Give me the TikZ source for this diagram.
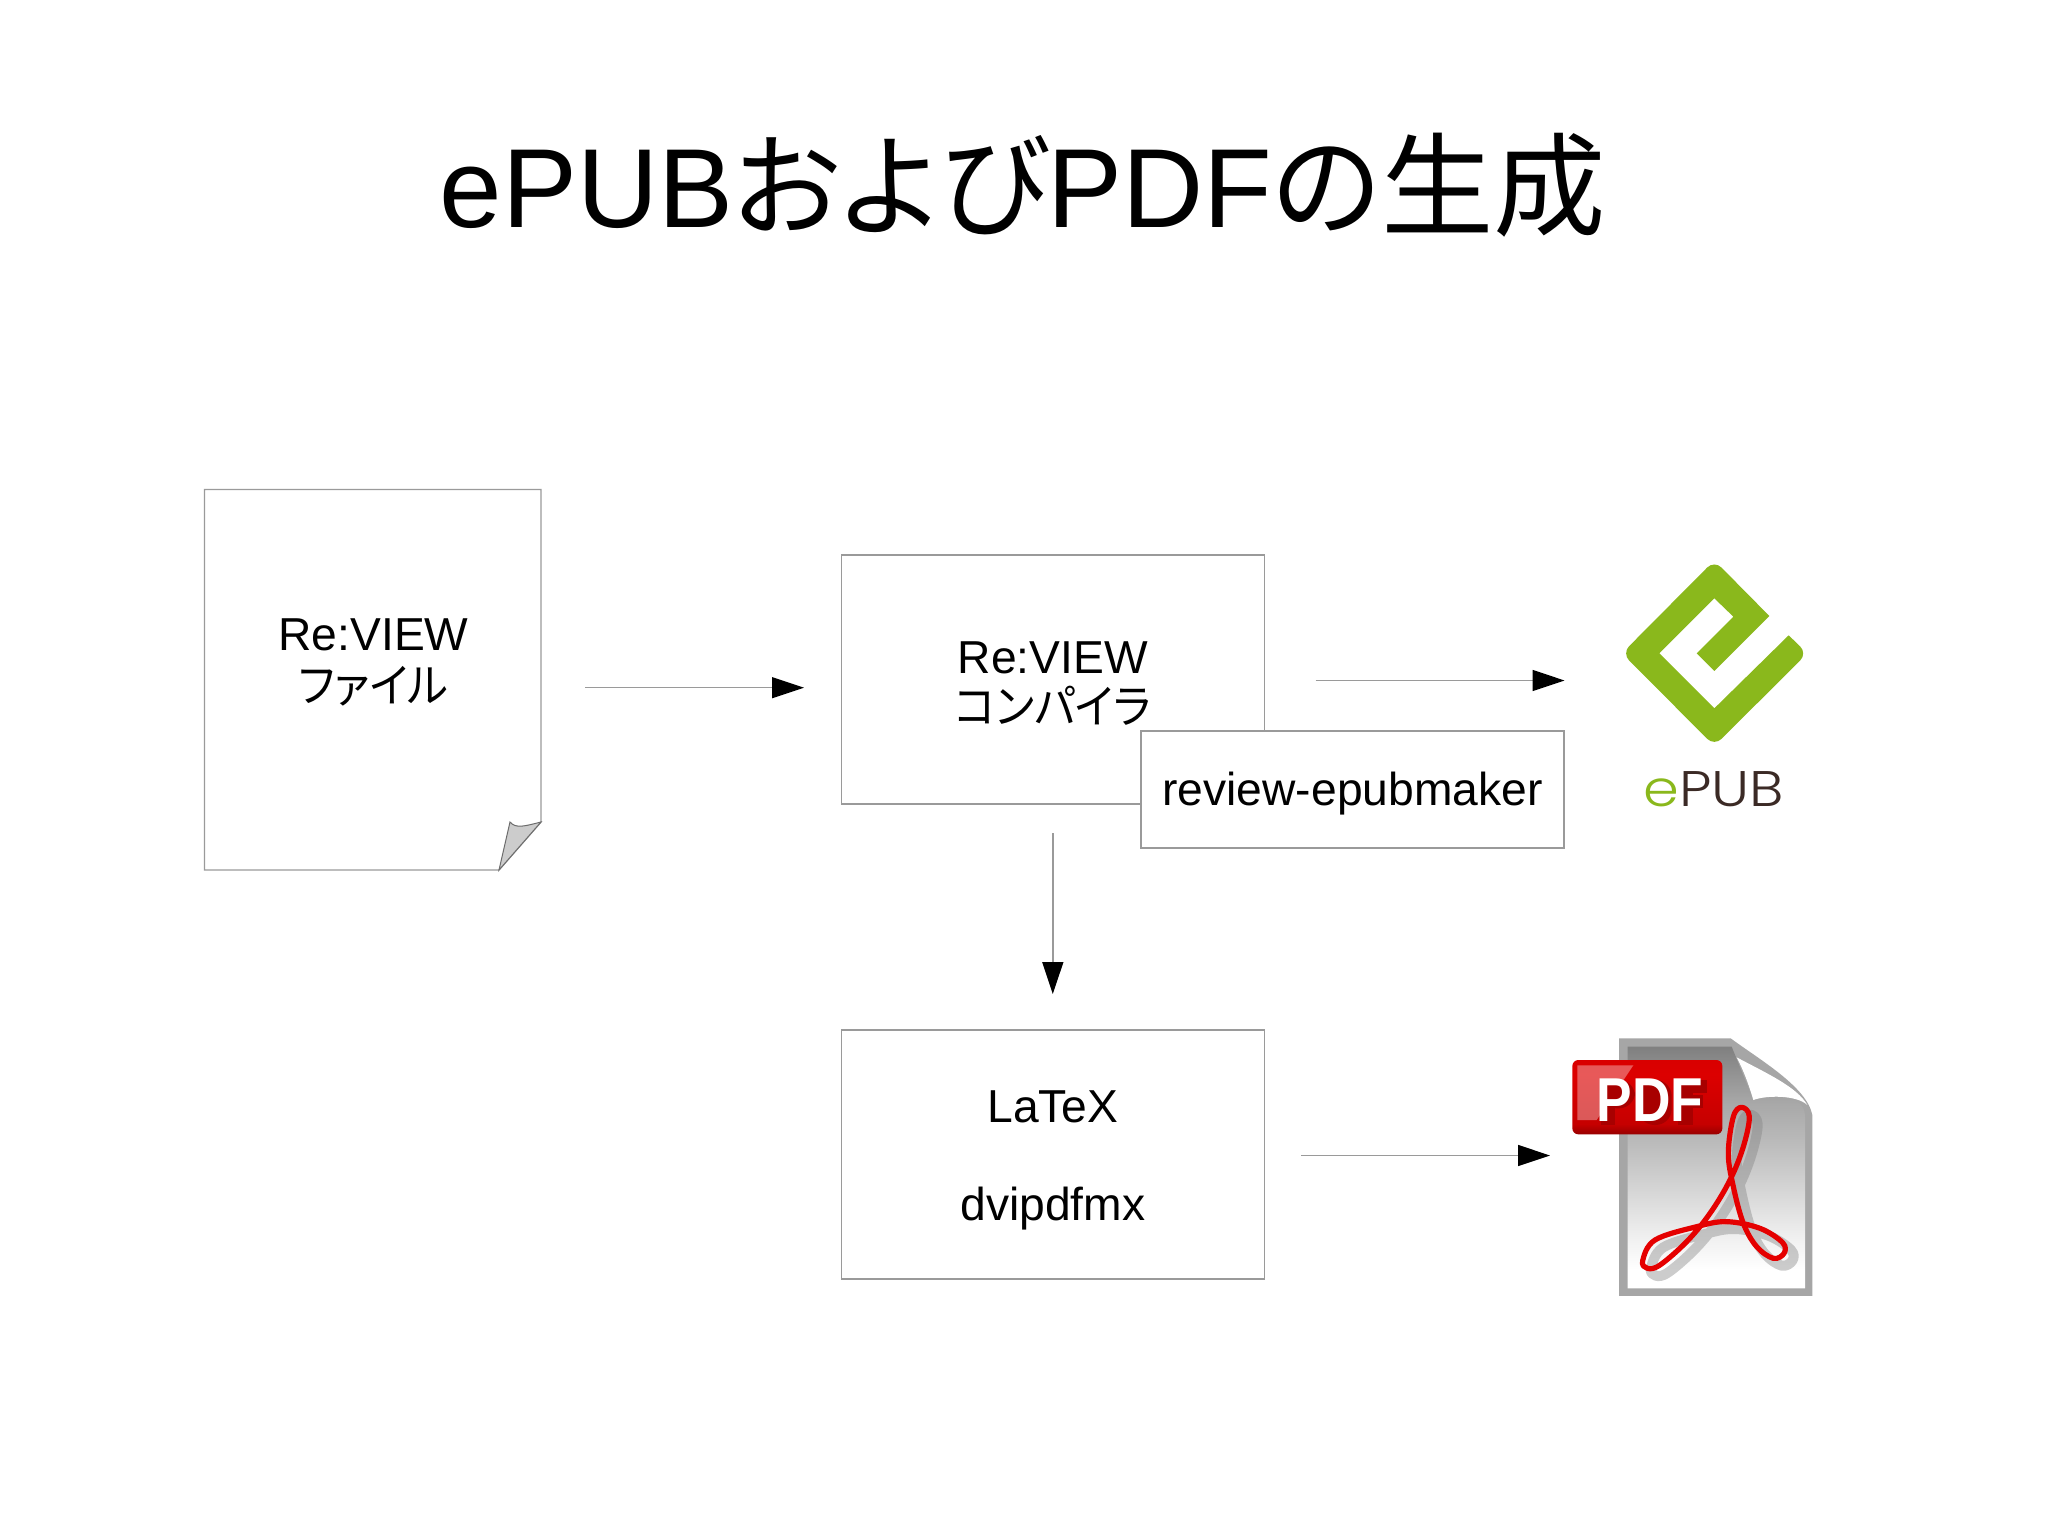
\documentclass[tikz,border=0pt]{standalone}
\usepackage{fontspec}
\setmainfont{Liberation Sans}
\newfontfamily\cjk[RawFeature={+palt}]{Noto Sans CJK JP}
\newfontfamily\logofont[UprightFont={* Light}]{Poppins}
\usetikzlibrary{arrows.meta,calc}
\definecolor{linegray}{HTML}{9A9A9A}
\definecolor{epubgreen}{HTML}{8AB81C}
\definecolor{epubbrown}{HTML}{3B2A25}
\definecolor{pdfred}{HTML}{DC0000}
\definecolor{pdfdark}{HTML}{A80000}
\pgfdeclareverticalshading{pdfpage}{100bp}{
  color(0bp)=(white); color(28.8bp)=(white);
  color(35.7bp)=(black!6); color(46bp)=(black!17);
  color(56.4bp)=(black!28); color(63.3bp)=(black!34);
  color(75bp)=(black!50); color(100bp)=(black!50)}
\pgfdeclareverticalshading{pdfbadge}{100bp}{
  color(0bp)=(pdfdark!90!black); color(25bp)=(pdfdark!90!black);
  color(32bp)=(pdfred!90!black); color(65bp)=(pdfred);
  color(75bp)=(red!85!black); color(100bp)=(red!85!black)}
\tikzset{
  boxnode/.style={draw=linegray,line width=.7pt,fill=white,minimum width=211.5pt,inner sep=0pt},
  lbl/.style={anchor=base,font=\fontsize{23.1}{27}\selectfont,inner sep=0pt},
  kanalbl/.style={lbl,xscale=.94},
  flow/.style={draw=linegray,line width=.7pt,-{Triangle[length=16pt,width=10.5pt,black]}},
  swoosh/.style={line join=round},
}
\begin{document}
\begin{tikzpicture}[x=.5pt,y=-.5pt]
\useasboundingbox (0,0) rectangle (2048,1535);
\fill[white] (0,0) rectangle (2048,1535);
% title
\node[anchor=base,inner sep=0pt,font=\fontsize{56.2}{60}\selectfont] (title) at (1022.7,228) {ePUB{\cjk および}PDF{\cjk の生成}};
% source document
\coordinate (docA) at (204.5,489.5);
\coordinate (docB) at (541,489.5);
\coordinate (docC) at (541,822);
\coordinate (docD) at (499,870);
\coordinate (docE) at (204.5,870);
\draw[linegray,line width=.7pt,fill=white] (docA) -- (docB) -- (docC) -- (docD) -- (docE) -- cycle;
\draw[linegray!70!black,line width=.5pt,fill=black!20] (docD) -- (510,822) .. controls (516,829) and (525,826) .. (docC) -- cycle;
\node[lbl] (doc1) at (373.5,650) {Re:VIEW};
\node[kanalbl] (doc2) at (373.5,702) {\cjk ファイル};
% boxes
\node[boxnode,minimum height=124.5pt] (comp) at (1052.8,679.5) {};
\node[lbl] (comp1) at (1052.8,673) {Re:VIEW};
\node[kanalbl] (comp2) at (1052.8,723) {\cjk コンパイラ};
\node[boxnode,minimum height=58.5pt] (maker) at (1352.5,789.5) {};
\node[lbl] (maker1) at (1352.5,805) {review-epubmaker};
\node[boxnode,minimum height=124.5pt] (latex) at (1052.8,1154.5) {};
\node[lbl] (latex1) at (1052.8,1122) {LaTeX};
\node[lbl] (latex2) at (1052.8,1220) {dvipdfmx};
% connectors
\coordinate (a1s) at (585,687.7); \coordinate (a1e) at (804,687.7);
\coordinate (a2s) at (1315.5,680.5); \coordinate (a2e) at (1564.5,680.5);
\coordinate (a3s) at (1052.8,833); \coordinate (a3e) at (1052.8,994);
\coordinate (a4s) at (1301,1155.5); \coordinate (a4e) at (1550,1155.5);
\draw[flow] (a1s) -- (a1e);
\draw[flow] (a2s) -- (a2e);
\draw[flow] (a3s) -- (a3e);
\draw[flow] (a4s) -- (a4e);
% ePUB logo
\begin{scope}[shift={(1560,530)},x=.5pt/3,y=-.5pt/3]
\fill[epubgreen] (628,258) [rounded corners=5pt] -- (463,91) -- (186,370) -- (463,648) -- (742,370) [sharp corners] -- (686,316) -- (463,535) -- (298,370) -- (463,205) -- (520,260) -- (410,370) -- (463,423) -- cycle;
\end{scope}
\node[anchor=base,inner sep=0pt,xscale=1.15,font=\logofont\fontsize{25}{28}\selectfont] (epubtxt) at (1714,806) {\textcolor{epubgreen}{e}\textcolor{epubbrown}{PUB}};
% PDF icon
\begin{scope}[shift={(1560,1020)},x=.5pt/3,y=-.5pt/3]
\fill[black!35] (177,55) -- (512,55) .. controls (600,120) and (740,200) .. (757,285) -- (757,828) -- (177,828) -- cycle;
\shade[shading=pdfpage] (203,80) -- (515,80) -- (580,240) .. controls (640,225) and (735,220) .. (735,290) -- (735,805) -- (203,805) -- cycle;
\fill[white] (530,112) .. controls (620,160) and (710,200) .. (742,255) .. controls (710,225) and (620,225) .. (580,240) .. controls (565,190) and (550,150) .. (530,112) -- cycle;
\draw[swoosh,black!50,opacity=.4,line width=5pt,shift={(25,22)}] plot[smooth cycle,tension=.6] coordinates {(248,722) (285,660) (410,620) (500,605) (600,625) (668,668) (672,700) (640,715) (590,680) (550,610) (520,500) (505,400) (520,290) (545,262) (568,290) (550,380) (510,480) (450,580) (380,665) (300,735) (262,745)};
\draw[swoosh,red!90!black,line width=2.6pt] plot[smooth cycle,tension=.6] coordinates {(248,722) (285,660) (410,620) (500,605) (600,625) (668,668) (672,700) (640,715) (590,680) (550,610) (520,500) (505,400) (520,290) (545,262) (568,290) (550,380) (510,480) (450,580) (380,665) (300,735) (262,745)};
\shade[shading=pdfbadge,rounded corners=3pt] (37,120) -- (487,120) -- (487,343) -- (37,343) -- cycle;
\fill[white,opacity=.35] (52,136) -- (220,136) -- (110,300) -- (52,300) -- cycle;
\begin{scope}[pdfdark,shift={(10,10)}]
\fill (112,170) rectangle (155,305);
\fill[rounded corners=8pt] (112,170) rectangle (215,255);
\fill[rounded corners=8pt] (225,170) rectangle (325,305);
\fill (345,170) rectangle (430,210);
\fill (345,170) rectangle (388,305);
\fill (345,215) rectangle (420,255);
\end{scope}
\node[anchor=base,inner sep=0pt,text=white,font=\bfseries\fontsize{31}{34}\selectfont,xscale=.86] (pdftxt) at (270,305) {PDF};
\end{scope}
\end{tikzpicture}
\end{document}
